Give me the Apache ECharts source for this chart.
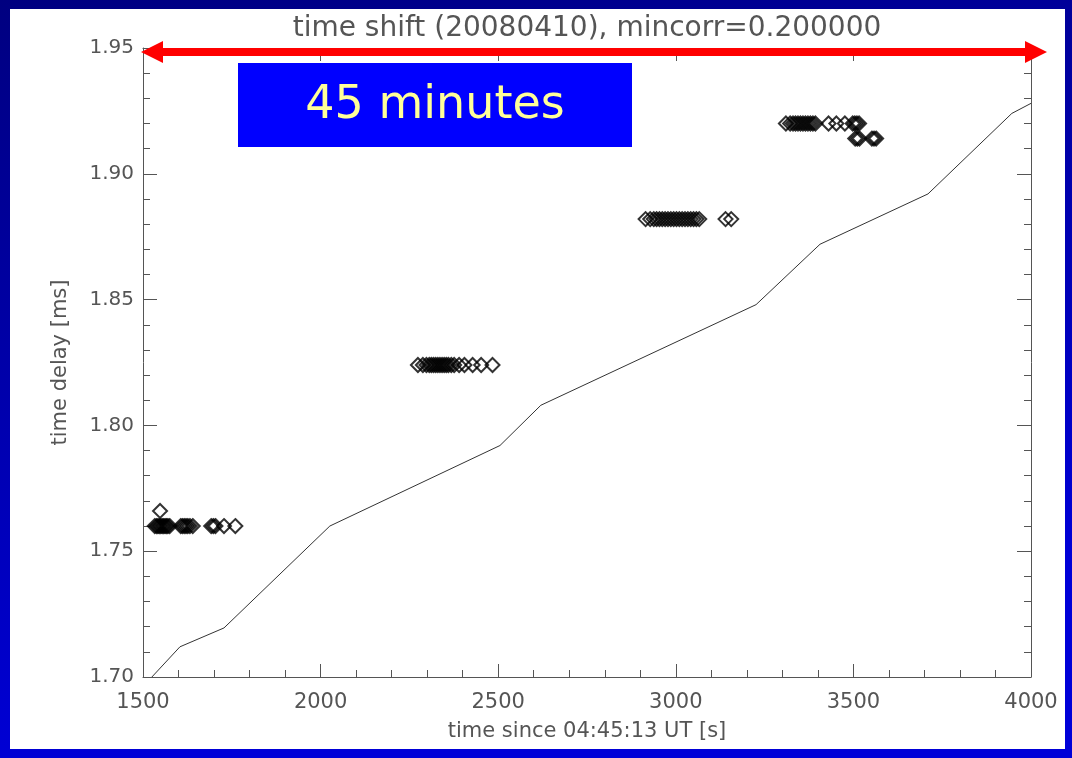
<!DOCTYPE html>
<html>
<head>
<meta charset="utf-8">
<script src="https://cdn.jsdelivr.net/npm/echarts@6/dist/echarts.min.js"></script>
<style>
html,body{margin:0;padding:0;width:1072px;height:758px;overflow:hidden;background:#000090;}
#chart{width:1072px;height:758px;}
</style>
</head>
<body>
<div id="chart"></div>
<script>
// ---- data ----
const titleText = 'time shift (20080410), mincorr=0.200000';
const xAxisName = 'time since 04:45:13 UT [s]';
const yAxisName = 'time delay [ms]';
const annotationText = '45 minutes';

// model curve (time [s], delay [ms])
const curveX = [1525, 1604, 1728, 2026, 2505, 2620, 3226, 3406, 3710, 3946, 4000];
const curveY = [1.700, 1.712, 1.7195, 1.760, 1.792, 1.808, 1.848, 1.872, 1.892, 1.924, 1.928];

// measured time shifts: each group shares one delay value
const delay1 = 1.760;
const times1 = [1533, 1538, 1542, 1546, 1550, 1554, 1558, 1562, 1566, 1570, 1575, 1606, 1611, 1616, 1621, 1626, 1632, 1640, 1692, 1698, 1704, 1728, 1760];
const delay1b = 1.766;
const times1b = [1548];
const delay2 = 1.824;
const times2 = [2274, 2288, 2298, 2306, 2312, 2318, 2324, 2330, 2336, 2342, 2348, 2354, 2360, 2368, 2376, 2390, 2405, 2428, 2452, 2484];
const delay3 = 1.882;
const times3 = [2915, 2928, 2938, 2946, 2954, 2962, 2970, 2978, 2986, 2994, 3002, 3010, 3018, 3026, 3034, 3042, 3050, 3058, 3066, 3140, 3156];
const delay4 = 1.920;
const times4 = [3310, 3322, 3330, 3337, 3344, 3351, 3358, 3365, 3372, 3379, 3386, 3393, 3430, 3452, 3476, 3498, 3504, 3510, 3516];
const delay5 = 1.914;
const times5 = [3505, 3511, 3517, 3552, 3558, 3564];

// axis ranges
const xMin = 1500, xMax = 4000, xStep = 500;
const yMin = 1.70, yMax = 1.95, yStep = 0.05;

// ---- build ----
const curve = curveX.map((x, i) => [x, curveY[i]]);
const groups = [[times1, delay1], [times1b, delay1b], [times2, delay2], [times3, delay3], [times4, delay4], [times5, delay5]];
const points = [];
groups.forEach(([ts, d]) => ts.forEach(t => points.push([t, d])));

const FONT = 'DejaVu Sans';
const TXT = '#555';
const AX = '#555';

const chart = echarts.init(document.getElementById('chart'), null, {renderer: 'canvas'});

const commonX = {
  type: 'value', min: xMin, max: xMax, interval: xStep,
  splitLine: {show: false},
  axisLine: {show: true, onZero: false, lineStyle: {color: AX, width: 1}},
  axisTick: {show: true, inside: true, length: 13, lineStyle: {color: AX}},
  minorTick: {show: true, splitNumber: 5, length: 7, lineStyle: {color: AX}},
};
const commonY = {
  type: 'value', min: yMin, max: yMax, interval: yStep,
  splitLine: {show: false},
  axisLine: {show: true, onZero: false, lineStyle: {color: AX, width: 1}},
  axisTick: {show: true, inside: true, length: 14, lineStyle: {color: AX}},
  minorTick: {show: true, splitNumber: 5, length: 7, lineStyle: {color: AX}},
};

chart.setOption({
  animation: false,
  backgroundColor: new echarts.graphic.LinearGradient(0, 0, 0.15, 1, [
    {offset: 0, color: '#000080'},
    {offset: 1, color: '#0000d8'}
  ]),
  title: {
    text: titleText,
    left: 582, top: 10, textAlign: 'center',
    textStyle: {fontFamily: FONT, fontSize: 28, fontWeight: 'normal', color: TXT}
  },
  grid: {left: 143, right: 41, top: 48, bottom: 81, containLabel: false},
  xAxis: [
    Object.assign({}, commonX, {
      position: 'bottom',
      name: xAxisName, nameLocation: 'middle', nameGap: 44,
      nameTextStyle: {fontFamily: FONT, fontSize: 21, color: TXT},
      axisLabel: {show: true, margin: 15, fontFamily: FONT, fontSize: 21, color: TXT,
        formatter: v => String(v)}
    }),
    Object.assign({}, commonX, {position: 'top', axisLabel: {show: false}})
  ],
  yAxis: [
    Object.assign({}, commonY, {
      position: 'left',
      name: yAxisName, nameLocation: 'middle', nameGap: 72,
      nameTextStyle: {fontFamily: FONT, fontSize: 21, color: TXT},
      axisLabel: {show: true, margin: 9, fontFamily: FONT, fontSize: 20, color: TXT,
        formatter: v => v.toFixed(2)}
    }),
    Object.assign({}, commonY, {position: 'right', axisLabel: {show: false}})
  ],
  series: [
    {
      type: 'line', xAxisIndex: 0, yAxisIndex: 0, data: curve,
      showSymbol: false, clip: true,
      lineStyle: {color: '#333', width: 1}, z: 3
    },
    {
      type: 'scatter', xAxisIndex: 0, yAxisIndex: 0, data: points,
      symbol: 'diamond', symbolSize: [14, 14],
      itemStyle: {color: 'rgba(0,0,0,0)', borderColor: '#000', borderWidth: 2}, z: 4
    }
  ],
  graphic: [
    {type: 'rect', z: -100, shape: {x: 10, y: 9, width: 1055, height: 740}, style: {fill: '#ffffff'}},
    {type: 'polygon', z: 100, shape: {points: [
      [141, 52], [163, 41], [163, 48], [1025, 48], [1025, 41], [1047, 52],
      [1025, 63], [1025, 56], [163, 56], [163, 63]
    ]}, style: {fill: '#ff0000'}},
    {type: 'rect', z: 100, shape: {x: 238, y: 63, width: 394, height: 84}, style: {fill: '#0000ff'}},
    {type: 'text', z: 101, style: {x: 435, y: 106, text: annotationText, textAlign: 'center', textVerticalAlign: 'middle',
      font: '46px "DejaVu Sans"', fill: '#ffff99'}}
  ]
});
</script>
</body>
</html>
